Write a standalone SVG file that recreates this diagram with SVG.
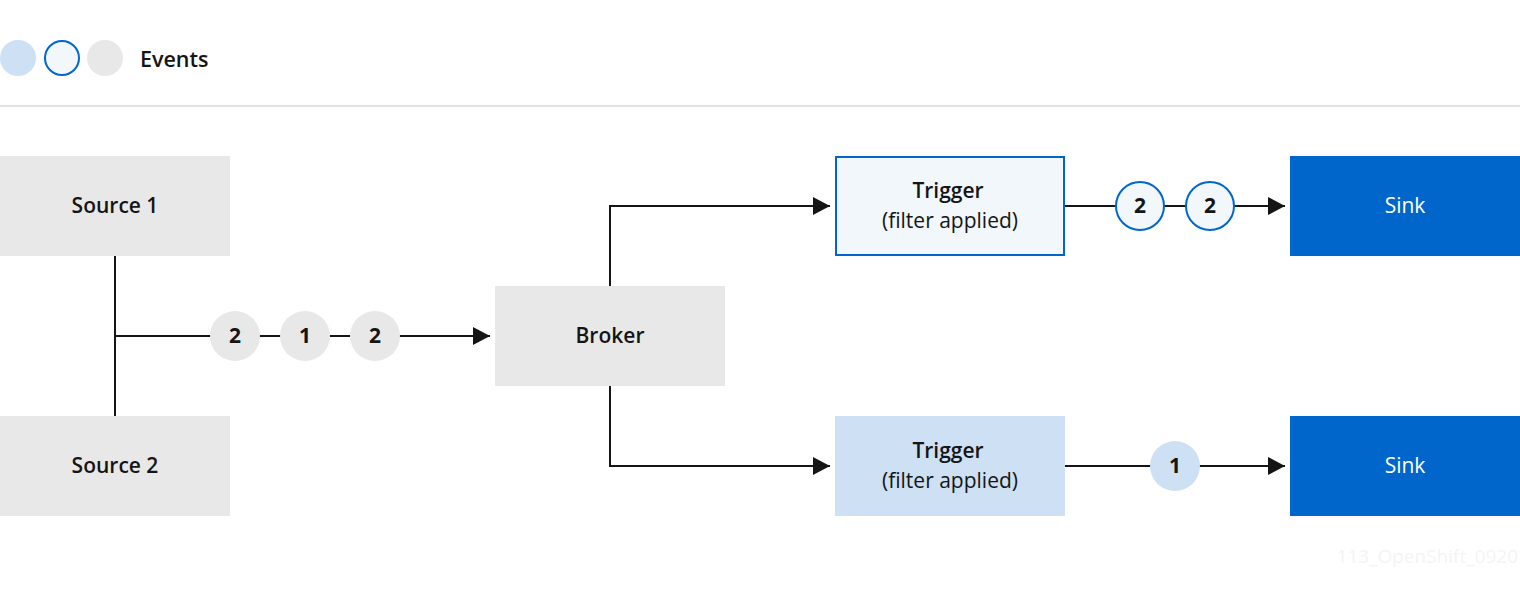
<svg xmlns="http://www.w3.org/2000/svg" width="1520" height="597" viewBox="0 0 1520 597">
<defs>
<marker id="arr" markerWidth="18" markerHeight="20" refX="17" refY="10" orient="auto" markerUnits="userSpaceOnUse">
<path d="M0,1 L17,10 L0,19 Z" fill="#151515"/>
</marker>
<style>
.grey{fill:#e8e8e8}
.lb{fill:#cde0f4}
.trig1{fill:#f2f7fc;stroke:#0066cc;stroke-width:2}
.sink{fill:#0066cc}
.t{font-family:"Open Sans","Liberation Sans",sans-serif;font-size:21px;fill:#151515;text-anchor:middle}
.b{font-weight:600}
.w{fill:#ffffff}
.ln{stroke:#151515;stroke-width:2;fill:none}
.ev{font-family:"Open Sans","Liberation Sans",sans-serif;font-size:21px;font-weight:700;fill:#151515;text-anchor:middle}
</style>
</defs>
<rect width="1520" height="597" fill="#ffffff"/>
<g id="legend">
<circle cx="18" cy="58" r="18" class="lb"/>
<circle cx="62" cy="58" r="17" class="trig1"/>
<circle cx="105" cy="58" r="18" class="grey"/>
<text x="140" y="67" class="t b" style="text-anchor:start;font-size:21.5px">Events</text>
<line x1="0" y1="106" x2="1520" y2="106" stroke="#e2e2e2" stroke-width="2"/>
</g>
<g id="connectors">
<line x1="115" y1="256" x2="115" y2="416" class="ln"/>
<line x1="115" y1="336" x2="490" y2="336" class="ln" marker-end="url(#arr)"/>
<polyline points="610,286 610,206 830,206" class="ln" marker-end="url(#arr)"/>
<polyline points="610,386 610,466 830,466" class="ln" marker-end="url(#arr)"/>
<line x1="1065" y1="206" x2="1285" y2="206" class="ln" marker-end="url(#arr)"/>
<line x1="1065" y1="466" x2="1285" y2="466" class="ln" marker-end="url(#arr)"/>
</g>
<g id="source1">
<rect x="0" y="156" width="230" height="100" class="grey"/>
<text x="115" y="213" class="t b">Source 1</text>
</g>
<g id="source2">
<rect x="0" y="416" width="230" height="100" class="grey"/>
<text x="115" y="473" class="t b">Source 2</text>
</g>
<g id="events-in">
<circle cx="235" cy="336" r="25" class="grey"/>
<text x="235" y="343" class="ev">2</text>
<circle cx="305" cy="336" r="25" class="grey"/>
<text x="305" y="343" class="ev">1</text>
<circle cx="375" cy="336" r="25" class="grey"/>
<text x="375" y="343" class="ev">2</text>
</g>
<g id="broker">
<rect x="495" y="286" width="230" height="100" class="grey"/>
<text x="610" y="343" class="t b">Broker</text>
</g>
<g id="trigger1">
<rect x="836" y="157" width="228" height="98" class="trig1"/>
<text x="948" y="198" class="t b">Trigger</text>
<text x="950" y="228" class="t">(filter applied)</text>
</g>
<g id="trigger2">
<rect x="835" y="416" width="230" height="100" class="lb"/>
<text x="948" y="458" class="t b">Trigger</text>
<text x="950" y="488" class="t">(filter applied)</text>
</g>
<g id="events-out1">
<circle cx="1140" cy="206" r="24" class="trig1"/>
<text x="1140" y="213" class="ev">2</text>
<circle cx="1210" cy="206" r="24" class="trig1"/>
<text x="1210" y="213" class="ev">2</text>
</g>
<g id="events-out2">
<circle cx="1175" cy="466" r="25" class="lb"/>
<text x="1175" y="473" class="ev">1</text>
</g>
<g id="sink1">
<rect x="1290" y="156" width="230" height="100" class="sink"/>
<text x="1405" y="213" class="t w">Sink</text>
</g>
<g id="sink2">
<rect x="1290" y="416" width="230" height="100" class="sink"/>
<text x="1405" y="473" class="t w">Sink</text>
</g>
<text x="1518" y="563" font-family="'Open Sans','Liberation Sans',sans-serif" font-size="19" fill="#f4f4f4" text-anchor="end">113_OpenShift_0920</text>
</svg>
